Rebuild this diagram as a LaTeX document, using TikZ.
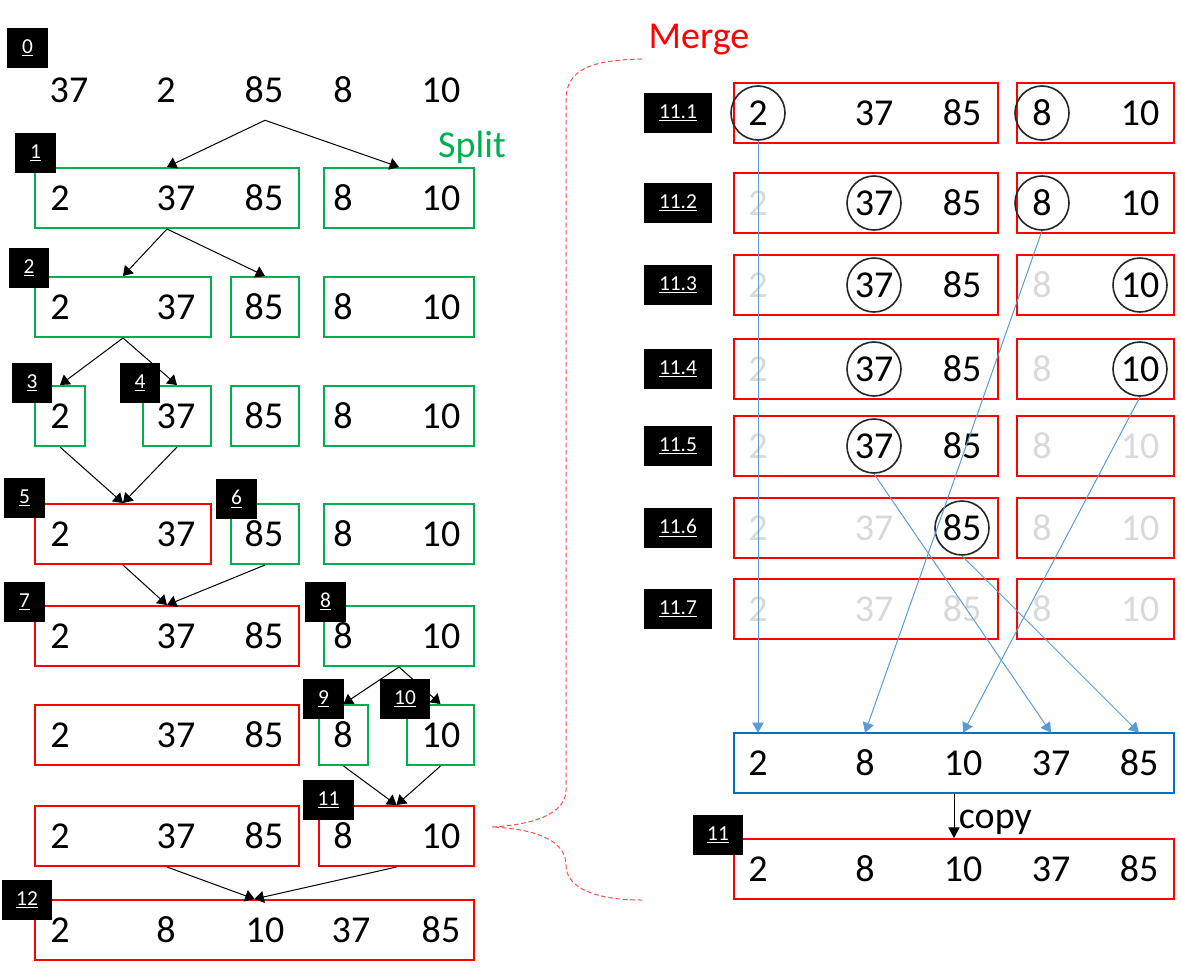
\documentclass[tikz,border=0pt]{standalone}
\usepackage{fontspec}
\setmainfont{Carlito}
\usetikzlibrary{arrows.meta}

\definecolor{splitgreen}{HTML}{00B050}
\definecolor{mergered}{HTML}{FF0000}
\definecolor{copyblue}{HTML}{0070C0}
\definecolor{pathblue}{HTML}{5B9BD5}
\newcommand{\numfont}{\fontsize{28.5}{30}\selectfont}
\newcommand{\tagfont}{\fontsize{16}{18}\selectfont}

\begin{document}
\begin{tikzpicture}[x=0.75pt,y=-0.75pt]
  \tikzstyle{cell}=[inner sep=0pt,minimum height=45pt,font=\numfont]
  \tikzstyle{box}=[draw,line width=1.5pt,minimum height=45pt,inner sep=0pt]
  \tikzstyle{badge}=[fill=black,text=white,font=\tagfont,minimum height=30pt,inner xsep=11pt,inner ysep=0pt]
  \tikzstyle{plain}=[]
  \tikzstyle{faded}=[text=black!15]
  \tikzstyle{circled}=[circle,draw=black!85,line width=1.2pt,minimum size=40.5pt]
  \tikzstyle{arr}=[-{Triangle[length=7pt,width=9pt]},line width=0.75pt]
  \tikzstyle{blue arrow}=[-{Triangle[length=7.5pt,width=8.5pt]},line width=0.75pt,draw=pathblue]
  \tikzstyle{brace}=[draw=mergered!70,line width=0.75pt,dash pattern=on 3.5pt off 2pt]

  \useasboundingbox (0,0) rectangle (1181,975);

  % split side
  \foreach \v/\x in {37/69, 2/166, 85/264, 8/343, 10/441}
    \node[cell] (n0-\v) at (\x,90) {\v};
  \node[inner sep=0pt,minimum size=0pt] (split) at (265,120) {};
  \node[font=\numfont,text=splitgreen,anchor=base] (split-label) at (472,157) {Split};

  \foreach \name/\lft/\rgt/\y/\col in {b1a/35/299/198/splitgreen, b1b/324/474/198/splitgreen,
      b2a/35/211/307/splitgreen, b2b/231/299/307/splitgreen, b2c/324/474/307/splitgreen,
      b3a/35/85/416/splitgreen, b3b/143/211/416/splitgreen, b3c/231/299/416/splitgreen, b3d/324/474/416/splitgreen,
      b4a/35/211/534/mergered, b4b/231/299/534/splitgreen, b4c/324/474/534/splitgreen,
      b5a/35/299/636/mergered, b5b/324/474/636/splitgreen,
      b6a/35/299/735/mergered, b6b/319/368/735/splitgreen, b6c/407/474/735/splitgreen,
      b7a/35/299/836/mergered, b7b/319/474/836/mergered,
      b8/35/474/930/mergered}
    \node[box,draw=\col,minimum width={(\rgt-\lft)*0.75pt}] (\name) at ({(\lft+\rgt)/2},\y) {};

  \foreach \row/\y in {1/198, 2/307, 3/416, 4/534, 5/636, 6/735, 7/836}
    \foreach \v/\x in {2/60, 37/176, 85/264, 8/343, 10/441}
      \node[cell] (n\row-\v) at (\x,\y) {\v};
  \foreach \v/\x in {2/60, 8/166, 10/265, 37/351, 85/441}
    \node[cell] (n8-\v) at (\x,930) {\v};

  \foreach \from/\to in {split/b1a, split/b1b, b1a/b2a, b1a/b2b, b2a/b3a, b2a/b3b,
      b3a/b4a, b3b/b4a, b4a/b5a, b4b/b5a, b5b/b6b, b5b/b6c, b6b/b7b, b6c/b7b, b7a/b8, b7b/b8}
    \draw[arr] (\from.south) -- (\to.north);

  % merge steps
  \node[font=\numfont,text=mergered,anchor=base] (merge-label) at (699,48) {Merge};
  \draw[brace] (642,59) .. controls (590,60) and (566,70) .. (566,100) -- (566,790)
    .. controls (566,815) and (530,825) .. (492,827)
    .. controls (535,829) and (566,840) .. (566,865)
    .. controls (566,890) and (600,900) .. (642,900);

  \foreach \s/\y/\fa/\fb/\fc/\fd/\fe in {1/113/circled/plain/plain/circled/plain,
      2/203/faded/circled/plain/circled/plain, 3/285/faded/circled/plain/faded/circled,
      4/369/faded/circled/plain/faded/circled, 5/446/faded/circled/plain/faded/faded,
      6/528/faded/faded/circled/faded/faded, 7/609/faded/faded/faded/faded/faded} {
    \node[box,draw=mergered,minimum width=198pt] (m\s-a) at (866,\y) {};
    \node[box,draw=mergered,minimum width=117.75pt] (m\s-b) at (1095.5,\y) {};
    \node[cell,\fa] (m\s-2) at (758,\y) {2};
    \node[cell,\fb] (m\s-37) at (874,\y) {37};
    \node[cell,\fc] (m\s-85) at (962,\y) {85};
    \node[cell,\fd] (m\s-8) at (1042,\y) {8};
    \node[cell,\fe] (m\s-10) at (1140,\y) {10};
    \node[badge] (t11-\s) at (678,\y) {\underline{11.\s}};
  }

  \node[box,draw=copyblue,minimum width=330pt] (tmp) at (954,763) {};
  \node[box,draw=mergered,minimum width=330pt] (final) at (954,869) {};
  \foreach \v/\x in {2/758, 8/865, 10/963, 37/1051, 85/1139} {
    \node[cell] (c-\v) at (\x,763) {\v};
    \node[cell] (f-\v) at (\x,869) {\v};
  }

  \foreach \from/\to in {m1-2/c-2, m2-8/c-8, m4-10/c-10, m5-37/c-37, m6-85/c-85}
    \draw[blue arrow] (\from.south) -- (\to.north);
  \draw[-{Triangle[length=8pt,width=8.5pt]},line width=0.75pt] (tmp.south) -- (final.north)
    node[midway,right,yshift=-5pt,font=\numfont] {copy};

  % step numbers
  \foreach \t/\x/\y in {0/27.5/47.5, 1/35.5/153, 2/29/268, 3/32/383, 4/140/383, 5/24.5/498,
      6/236.5/499, 7/24.5/601.5, 8/325.5/601.5, 9/323.5/698.5, 10/405/698.5, 11/328.5/799.5, 12/27/900}
    \node[badge] (t\t) at (\x,\y) {\underline{\t}};
  \node[badge] (t11r) at (718,834.5) {\underline{11}};
\end{tikzpicture}
\end{document}
